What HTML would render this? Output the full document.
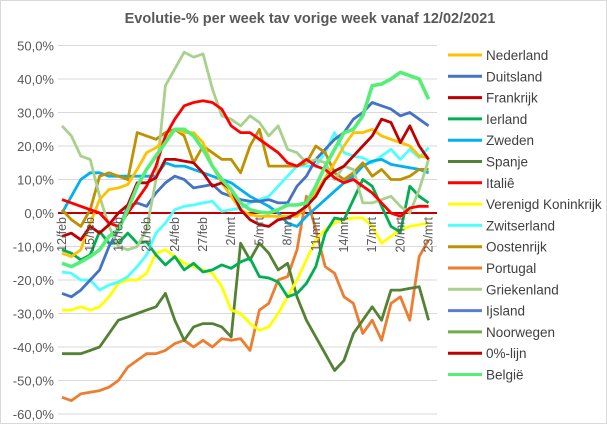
<!DOCTYPE html>
<html><head><meta charset="utf-8"><style>
html,body{margin:0;padding:0;background:#fff;}
svg{display:block;font-family:"Liberation Sans",sans-serif;}
</style></head><body>
<svg id="chart" width="607" height="424" viewBox="0 0 607 424" xmlns="http://www.w3.org/2000/svg">
<rect x="0.5" y="0.5" width="606" height="423" fill="#fff" stroke="#d9d9d9"/>
<text x="310" y="23" text-anchor="middle" font-size="14.5" font-weight="bold" fill="#595959">Evolutie-% per week tav vorige week vanaf 12/02/2021</text>
<g id="grid"></g>
<g id="yaxis"></g>
<g id="series"></g>
<g id="xaxis"></g>
<g id="legend"></g>
</svg>
<script>
const dates = ["12/feb","15/feb","18/feb","21/feb","24/feb","27/feb","2/mrt","5/mrt","8/mrt","11/mrt","14/mrt","17/mrt","20/mrt","23/mrt"];
const yTicks = [50,40,30,20,10,0,-10,-20,-30,-40,-50,-60];
const yTickLabels = ["50,0%","40,0%","30,0%","20,0%","10,0%","0,0%","-10,0%","-20,0%","-30,0%","-40,0%","-50,0%","-60,0%"];
const seriesNames = ["Nederland","Duitsland","Frankrijk","Ierland","Zweden","Spanje","Italiê","Verenigd Koninkrijk","Zwitserland","Oostenrijk","Portugal","Griekenland","Ijsland","Noorwegen","0%-lijn","België"];
const nederland = [-12,-13,-11,-3,4,7,7.5,8.5,13,18,19.5,22,25,24,24,21,14,9,5,1,-0.5,-1,-1,-1,-1,-1,2,6,10.5,15,20,24,24,25,23,22,21,20,17,16.5];
const duitsland = [-24,-25,-23,-20,-17,-10,-5,2,3,2,6,9,11,10,7.5,8,8.5,6,5,4,3.5,3.5,4,3,3,8,11,16,19,22,24,28,30,33,32,31,29,30,28,26];
const frankrijk = [-7,-6,-8,-4,-6,-3.5,0,2.4,9,9,10.5,16,16,15.5,15,12,8,9,7,1,-2,-3.5,-4,-2,-1.5,0,2,5,10,12.5,14,17,20,23,28,27,21,26,20,16];
const ierland = [-11,-12,-14,-12.5,-5.5,-9,-9,-6,-9,-8.6,-12.5,-15.5,-13,-17,-15,-17.6,-17,-15.5,-16.5,-14.6,-13.5,-19,-19.4,-20.6,-25,-24,-21,-16,-6,-1.5,-2,4,10,8,2,-4,-5.7,8,5,3];
const zweden = [0,5,10,12,12,11,11,11,11,11,11,15,14,14,13,12,11,10,9,7,5,3.5,2,0,-3,-4,-1,1.5,4,6.5,9,11,14,15.5,16,14.5,14,13.5,13,12];
const spanje = [-42,-42,-42,-41,-40,-36,-32,-31,-30,-29,-28,-24,-32,-38,-34,-33,-33,-34,-37,-9,-14,-9,-12,-17,-15,-25,-32,-37,-42,-47,-44,-36,-32,-28,-32,-23,-23,-22.5,-22,-32];
const italie = [4,3,2,1,0,-3,-4,0,4,8,14,23,28,32,33,33.5,33,31,26,24,24,22,20,18,15,14,16,14,13,10.5,9,10,8,6,3,0,-1,1.5,2,2];
const vk = [-29,-29,-28,-29,-28,-25,-21,-20,-20,-18,-12,-11,-13,-15,-16,-17,-18,-22,-29,-30,-33,-35,-34,-30,-25,-20,-14,-8,-5,-3,-2,-1.5,-1.5,-4,-9,-7,-5,-4,-3.5,-3];
const zwitserland = [-17.6,-18,-20,-20,-23,-21.5,-20.6,-19,-16,-12.5,-6,-3,1,2,2.4,3,3.5,0.5,1,1.5,3,4,5,8,11,14,14,14,18,24,18,17,16.5,15,17,19,16,19,16.5,19.5];
const oostenrijk = [1,-2,-4,1,11,12,11,10,24,23,22,24,25,23,15,20,18,16,16,12,20,25,14,14,14,14,15,20,18,12,10,12,15,11,13,10,10,11,13,13];
const portugal = [-55,-56,-54,-53.5,-53,-52,-50,-46,-44,-42,-42,-41,-39,-38,-40,-38,-40,-37.5,-38,-37.5,-41,-29,-27,-20,-19,-11,5,-5,-16,-18,-25,-27,-36,-32,-38,-27,-25,-32,-13,-8];
const griekenland = [26,23,17,16,5,-4,-10,-11,-10,-5,10,38,43,48,46.5,47.5,37,29,28,26,29,27,23,26,19,18,15,16,15,10,14,13,3,3,4,5,2,0,7,16];
const ijsland = [];
const noorwegen = [];
const nullijn = [0,0,0,0,0,0,0,0,0,0,0,0,0,0,0,0,0,0,0,0,0,0,0,0,0,0,0,0,0,0,0,0,0,0,0,0,0,0,0,0];
const belgie = [-15,-16,-14.6,-13,-11,-7,-5,1,8,13,17,21,25,25,23,19,14,10,7,3,1,0.3,0,1,2.4,2.4,3,8,14,19,24,25,29,38,38.5,40,42,41,40,34];

const NS="http://www.w3.org/2000/svg";
const X0=62, DX=9.4, Y0=213, PY=3.35;
const xS = i => X0 + i*DX;
const yS = v => Y0 - v*PY;
function mk(tag, attrs, parent){const e=document.createElementNS(NS,tag);for(const k in attrs)e.setAttribute(k,attrs[k]);parent.appendChild(e);return e;}
const grid=document.getElementById('grid'), yax=document.getElementById('yaxis'), xax=document.getElementById('xaxis'), ser=document.getElementById('series'), leg=document.getElementById('legend');
yTicks.forEach((t,k)=>{
  const l=mk('line',{x1:58,x2:437,y1:yS(t),y2:yS(t),stroke:'#d9d9d9','stroke-width':1},grid);
  
  
  const tx=mk('text',{x:54,y:yS(t)+5,'text-anchor':'end','font-size':13,fill:'#595959'},yax);
  tx.textContent=yTickLabels[k];
  
  
});
dates.forEach((d,k)=>{
  const x=xS(k*3)+4;
  const tx=mk('text',{x:x,y:217,'text-anchor':'end','font-size':12.5,fill:'#595959',transform:`rotate(-90 ${x} 217)`},xax);
  tx.textContent=d;
  
  
});
const allData=[nederland,duitsland,frankrijk,ierland,zweden,spanje,italie,vk,zwitserland,oostenrijk,portugal,griekenland,ijsland,noorwegen,nullijn,belgie];
const colors=["#FFC000","#4472C4","#C00000","#00B050","#00B0F0","#548235","#FF0000","#FFFF00","#4DFFFF","#BF9000","#ED7D31","#A9D18E","#5B7FD0","#70AD47","#C00000","#55EE77"];
const widths=[2.8,2.8,2.8,2.8,2.8,2.8,2.8,2.8,2.8,2.8,2.8,2.8,2.8,2.8,2,3.6];
const order=[14,10,5,7,3,8,4,1,9,11,0,6,2,12,13,15];
order.forEach(s=>{
  const d=allData[s]; if(!d.length) return;
  let pts;
  if(s===14) pts=`58,${yS(0)} 437,${yS(0)}`;
  else pts=d.map((v,i)=>`${xS(i).toFixed(1)},${yS(v).toFixed(1)}`).join(' ');
  const p=mk('polyline',{points:pts,fill:'none',stroke:colors[s],'stroke-width':widths[s],'stroke-linejoin':'round'},ser);
  
  
});
seriesNames.forEach((n,k)=>{
  const y=55+k*21.3;
  const g=mk('g',{},leg);
  
  
  mk('line',{x1:448,x2:482,y1:y,y2:y,stroke:colors[k],'stroke-width':3},g);
  const t=mk('text',{x:486,y:y+5,'font-size':13.5,fill:'#404040'},g);
  t.textContent=n;
});
</script>
</body></html>
